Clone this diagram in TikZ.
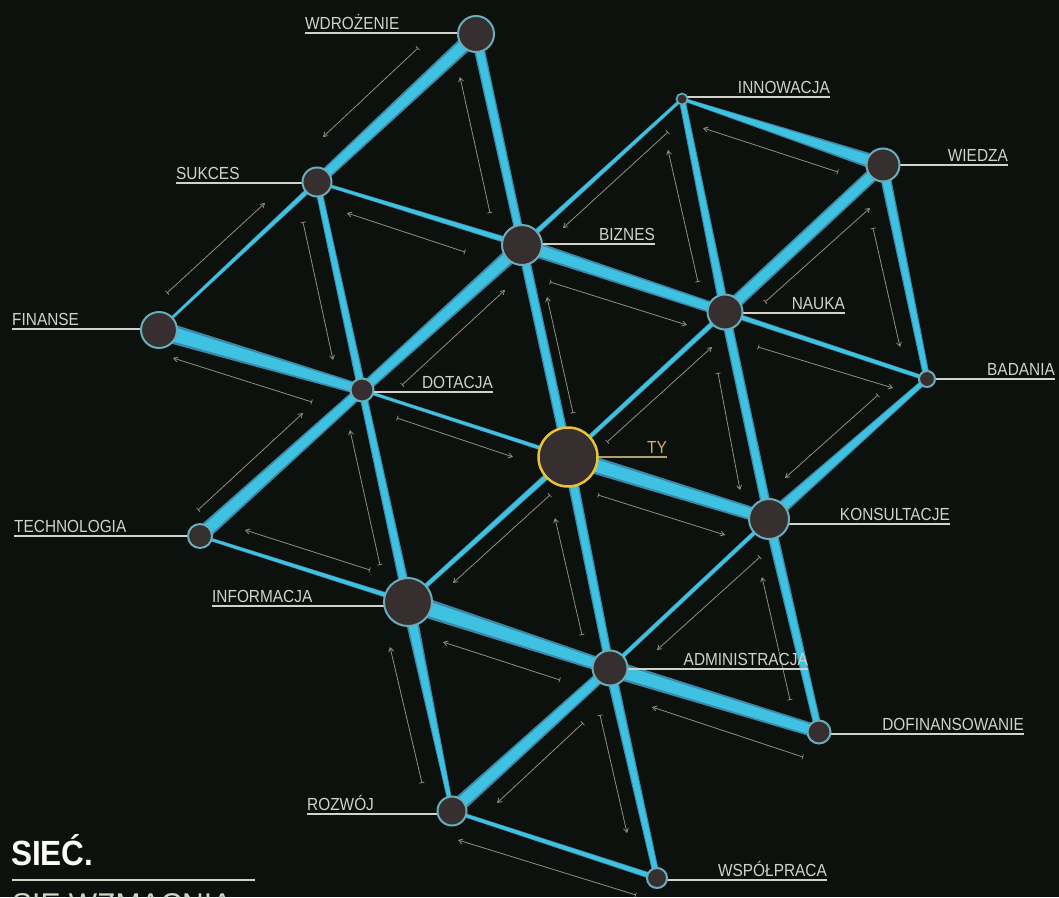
\documentclass[tikz,border=0pt]{standalone}
\usepackage{fontspec}
\setmainfont{Liberation Sans}[FakeStretch=0.88]
\newfontfamily\titlefont{Liberation Sans}[FakeStretch=0.9]
\newfontfamily\subfont{Liberation Sans}[FakeStretch=1.0]
\usetikzlibrary{calc,arrows.meta}
\definecolor{bg}{HTML}{0D110D}
\definecolor{tubeout}{HTML}{3A89A8}
\definecolor{tubein}{HTML}{3FC2E2}
\definecolor{nodefill}{HTML}{362E2F}
\definecolor{nodering}{HTML}{66AEBB}
\definecolor{lblc}{HTML}{D2D2C9}
\definecolor{arrc}{HTML}{948D7E}
\definecolor{tyring}{HTML}{E8C33A}
\definecolor{tylbl}{HTML}{D4B264}
\definecolor{tyline}{HTML}{B19F72}
\newcommand\tube[4]{%
  \fill[tubeout] ($(#1)!1.1*#3pt!90:(#2)$) -- ($(#2)!1.1*#4pt!-90:(#1)$) -- ($(#2)!1.1*#4pt!90:(#1)$) -- ($(#1)!1.1*#3pt!-90:(#2)$) -- cycle;
  \fill[tubein] ($(#1)!0.8*#3pt!90:(#2)$) -- ($(#2)!0.8*#4pt!-90:(#1)$) -- ($(#2)!0.8*#4pt!90:(#1)$) -- ($(#1)!0.8*#3pt!-90:(#2)$) -- cycle;
}
\tikzset{
  hub/.style={circle, fill=nodefill, draw=nodering, line width=2pt, inner sep=0pt},
  lbl/.style={inner xsep=0pt, inner ysep=3.5pt, text=lblc, font=\fontsize{17.5}{18}\selectfont},
  lline/.style={draw=lblc, line width=1.6pt},
  flow/.style={draw=arrc, line width=0.8pt, {Bar[width=5pt,line width=0.8pt]}-{Straight Barb[length=4pt,width=5pt,line width=0.8pt]}}
}
\begin{document}
\begin{tikzpicture}[x=1pt,y=-1pt]
\useasboundingbox (0,0) rectangle (1059,897);
\clip (0,0) rectangle (1059,897);
\fill[bg] (0,0) rectangle (1059,897);
% coordinates of hubs
\coordinate (WD) at (476,34);
\coordinate (SU) at (317,182);
\coordinate (FI) at (159,330);
\coordinate (DO) at (362,390);
\coordinate (TE) at (200,536);
\coordinate (IN) at (408,602);
\coordinate (RO) at (452,811);
\coordinate (WS) at (657,878);
\coordinate (AD) at (610,668);
\coordinate (DF) at (819,732);
\coordinate (KO) at (769,519);
\coordinate (TY) at (568,457);
\coordinate (BI) at (522,245);
\coordinate (NA) at (725,312);
\coordinate (BA) at (927,379);
\coordinate (WI) at (883,165);
\coordinate (INN) at (682,99);
% arrows
\foreach \a/\b/\c/\d in {418/48/323/137, 490/213/460/77, 167/293/265/203, 303/222/333/360,
  465/252/347/213, 312/402/173/358, 402/385/505/290,
  668/132/563/228, 698/282/668/150, 838/172/703/128, 550/282/687/325, 573/413/547/297,
  607/442/712/347, 765/302/870/208, 873/228/900/347, 758/347/893/388, 878/395/785/478,
  718/373/740/490,
  198/510/303/413, 380/565/350/430, 397/418/513/457, 370/570/245/530, 550/495/453/583,
  422/783/390/647, 560/680/443/642, 583/723/497/803, 582/635/555/518,
  598/495/725/535, 760/557/657/650, 790/700/762/577, 803/757/652/707, 600/715/627/833,
  636/895/458/840}
  \draw[flow] (\a,\b) -- (\c,\d);
% tubes
\tube{WD}{SU}{7}{5}
\tube{WD}{BI}{5}{4}
\tube{SU}{FI}{2.5}{1.2}
\tube{SU}{BI}{1.5}{3}
\tube{SU}{DO}{3}{4}
\tube{FI}{DO}{9}{5}
\tube{DO}{TY}{1.5}{2}
\tube{DO}{BI}{5}{7}
\tube{DO}{TE}{5}{7}
\tube{DO}{IN}{3.5}{4.5}
\tube{TE}{IN}{1.5}{2.5}
\tube{IN}{TY}{2}{3}
\tube{IN}{AD}{9}{6}
\tube{IN}{RO}{6}{2}
\tube{RO}{AD}{7}{5}
\tube{RO}{WS}{1.8}{2.8}
\tube{WS}{AD}{3}{5}
\tube{AD}{TY}{4}{5}
\tube{AD}{KO}{2}{2}
\tube{AD}{DF}{8}{6}
\tube{DF}{KO}{3.5}{5}
\tube{KO}{TY}{6}{8}
\tube{KO}{NA}{4.5}{4.5}
\tube{KO}{BA}{6}{2.5}
\tube{TY}{BI}{4.5}{4.5}
\tube{TY}{NA}{2}{2.5}
\tube{BI}{NA}{7}{5}
\tube{BI}{INN}{2.5}{1.5}
\tube{NA}{INN}{4.5}{3}
\tube{NA}{WI}{6}{6}
\tube{NA}{BA}{2.5}{2}
\tube{INN}{WI}{1.5}{7}
\tube{WI}{BA}{5}{3}
% labels on the left
\node[lbl, anchor=south west] (tWD) at (305,33) {WDROŻENIE};
\draw[lline] (tWD.south west) -- (tWD.south west -| WD);
\node[lbl, anchor=south west] (tSU) at (176,183) {SUKCES};
\draw[lline] (tSU.south west) -- (tSU.south west -| SU);
\node[lbl, anchor=south west] (tFI) at (12,329) {FINANSE};
\draw[lline] (tFI.south west) -- (tFI.south west -| FI);
\node[lbl, anchor=south west] (tTE) at (14,536) {TECHNOLOGIA};
\draw[lline] (tTE.south west) -- (tTE.south west -| TE);
\node[lbl, anchor=south west] (tIN) at (212,606) {INFORMACJA};
\draw[lline] (tIN.south west) -- (tIN.south west -| IN);
\node[lbl, anchor=south west] (tRO) at (307,814) {ROZWÓJ};
\draw[lline] (tRO.south west) -- (tRO.south west -| RO);
% labels on the right
\node[lbl, anchor=south east] (tDO) at (493,392) {DOTACJA};
\draw[lline] (tDO.south east -| DO) -- (tDO.south east);
\node[lbl, anchor=south east] (tBI) at (655,244) {BIZNES};
\draw[lline] (tBI.south east -| BI) -- (tBI.south east);
\node[lbl, anchor=south east] (tINN) at (830,97) {INNOWACJA};
\draw[lline] (tINN.south east -| INN) -- (tINN.south east);
\node[lbl, anchor=south east] (tWI) at (1008,165) {WIEDZA};
\draw[lline] (tWI.south east -| WI) -- (tWI.south east);
\node[lbl, anchor=south east] (tNA) at (845,313) {NAUKA};
\draw[lline] (tNA.south east -| NA) -- (tNA.south east);
\node[lbl, anchor=south east] (tBA) at (1055,379) {BADANIA};
\draw[lline] (tBA.south east -| BA) -- (tBA.south east);
\node[lbl, anchor=south east, text=tylbl] (tTY) at (667,457) {TY};
\draw[lline, draw=tyline] (tTY.south east -| TY) -- (tTY.south east);
\node[lbl, anchor=south east] (tKO) at (950,524) {KONSULTACJE};
\draw[lline] (tKO.south east -| KO) -- (tKO.south east);
\node[lbl, anchor=south east] (tAD) at (808,669) {ADMINISTRACJA};
\draw[lline] (tAD.south east -| AD) -- (tAD.south east);
\node[lbl, anchor=south east] (tDF) at (1024,734) {DOFINANSOWANIE};
\draw[lline] (tDF.south east -| DF) -- (tDF.south east);
\node[lbl, anchor=south east] (tWS) at (827,880) {WSPÓŁPRACA};
\draw[lline] (tWS.south east -| WS) -- (tWS.south east);
% hubs
\node[hub, minimum size=36pt] (nWD) at (WD) {};
\node[hub, minimum size=29pt] (nSU) at (SU) {};
\node[hub, minimum size=36pt] (nFI) at (FI) {};
\node[hub, minimum size=23pt] (nDO) at (DO) {};
\node[hub, minimum size=24pt] (nTE) at (TE) {};
\node[hub, minimum size=48pt] (nIN) at (IN) {};
\node[hub, minimum size=29pt] (nRO) at (RO) {};
\node[hub, minimum size=20pt] (nWS) at (WS) {};
\node[hub, minimum size=35pt] (nAD) at (AD) {};
\node[hub, minimum size=23pt] (nDF) at (DF) {};
\node[hub, minimum size=40pt] (nKO) at (KO) {};
\node[hub, minimum size=40pt] (nBI) at (BI) {};
\node[hub, minimum size=35pt] (nNA) at (NA) {};
\node[hub, minimum size=16pt] (nBA) at (BA) {};
\node[hub, minimum size=33pt] (nWI) at (WI) {};
\node[hub, minimum size=11pt, line width=1.6pt] (nINN) at (INN) {};
\node[hub, minimum size=59pt, draw=tyring, line width=2.5pt] (nTY) at (TY) {};
% title
\node[anchor=base west, inner sep=0pt, text=white!93!lblc, font=\titlefont\bfseries\fontsize{35}{35}\selectfont] (title) at (11,865) {SIEĆ.};
\coordinate (ulA) at (12,880);
\coordinate (ulB) at (255,880);
\draw[draw=lblc, line width=2pt] (ulA) -- (ulB);
\node[anchor=base west, inner sep=0pt, text=lblc, font=\subfont\fontsize{30}{30}\selectfont] (subtitle) at (12,914) {SIĘ WZMACNIA};
\end{tikzpicture}
\end{document}
